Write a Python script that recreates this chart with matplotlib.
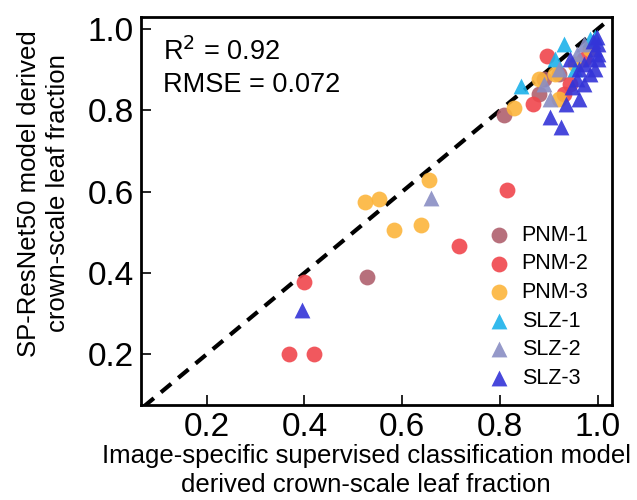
import matplotlib
matplotlib.use('Agg')
import matplotlib.pyplot as plt

plt.rcParams['font.family'] = ['Liberation Sans', 'DejaVu Sans']

# reference (x) vs SP-ResNet50 (y) leaf fraction, per site
pnm1_x = [0.528, 0.809, 0.891, 0.881, 0.922]
pnm1_y = [0.390, 0.790, 0.877, 0.840, 0.889]

pnm2_x = [0.399, 0.368, 0.419, 0.717, 0.815, 0.897, 0.867, 0.943, 0.932, 0.973]
pnm2_y = [0.378, 0.200, 0.200, 0.467, 0.605, 0.933, 0.815, 0.864, 0.840, 0.926]

pnm3_x = [0.524, 0.553, 0.584, 0.639, 0.655, 0.830, 0.881, 0.912, 0.953, 0.984, 0.922]
pnm3_y = [0.575, 0.583, 0.506, 0.519, 0.630, 0.807, 0.877, 0.889, 0.914, 0.951, 0.827]

slz1_x = [0.844, 0.912, 0.932, 0.953, 0.984, 0.994]
slz1_y = [0.859, 0.926, 0.963, 0.901, 0.975, 0.980]

slz2_x = [0.660, 0.891, 0.902, 0.922, 0.959, 0.973]
slz2_y = [0.585, 0.864, 0.827, 0.901, 0.938, 0.963]

slz3_x = [0.395, 0.902, 0.926, 0.936, 0.963, 0.947, 0.973, 0.984, 0.994, 1.000,
          0.959, 0.984, 0.994, 1.000, 0.973, 0.999, 0.990, 0.963, 0.943, 1.000]
slz3_y = [0.309, 0.785, 0.760, 0.815, 0.827, 0.857, 0.864, 0.889, 0.901, 0.926,
          0.877, 0.926, 0.951, 0.963, 0.914, 0.980, 0.970, 0.901, 0.926, 0.938]

r2_text = 'R$^2$ = 0.92'
rmse_text = 'RMSE = 0.072'

fig = plt.figure(figsize=(6.37, 5.0), dpi=100)
ax = fig.add_axes([0.221, 0.19, 0.74, 0.776])

ax.plot([0, 1.1], [0, 1.1], color='black', linestyle=(0, (3.2, 2.2)), linewidth=3, zorder=1)

ax.scatter(pnm1_x, pnm1_y, s=130, marker='o', color='#b0606e', alpha=0.9, lw=0, label='PNM-1', zorder=3)
ax.scatter(pnm2_x, pnm2_y, s=130, marker='o', color='#f0464c', alpha=0.9, lw=0, label='PNM-2', zorder=3)
ax.scatter(pnm3_x, pnm3_y, s=130, marker='o', color='#fcb53c', alpha=0.9, lw=0, label='PNM-3', zorder=3)
ax.scatter(slz1_x, slz1_y, s=130, marker='^', color='#1db2ea', alpha=0.9, lw=0, label='SLZ-1', zorder=3)
ax.scatter(slz2_x, slz2_y, s=130, marker='^', color='#8a8ec4', alpha=0.9, lw=0, label='SLZ-2', zorder=3)
ax.scatter(slz3_x, slz3_y, s=130, marker='^', color='#3434d8', alpha=0.9, lw=0, label='SLZ-3', zorder=3)

ax.set_xlim(0.065, 1.03)
ax.set_ylim(0.075, 1.03)
ax.set_xticks([0.2, 0.4, 0.6, 0.8, 1.0])
ax.set_yticks([0.2, 0.4, 0.6, 0.8, 1.0])
ax.set_xticklabels(['0.2', '0.4', '0.6', '0.8', '1.0'])
ax.set_yticklabels(['0.2', '0.4', '0.6', '0.8', '1.0'])
ax.tick_params(direction='in', length=7, width=1.2, labelsize=24, pad=5)
for sp in ax.spines.values():
    sp.set_linewidth(2)

ax.set_xlabel('Image-specific supervised classification model\nderived crown-scale leaf fraction',
              fontsize=18.5, linespacing=1.25)
ax.xaxis.set_label_coords(0.478, -0.1)
ax.set_ylabel('SP-ResNet50 model derived\ncrown-scale leaf fraction', fontsize=18.5,
              linespacing=1.25)
ax.yaxis.set_label_coords(-0.15, 0.546)

ax.text(0.047, 0.91, r2_text, transform=ax.transAxes, fontsize=19.5, va='center')
ax.text(0.047, 0.825, rmse_text, transform=ax.transAxes, fontsize=19.5, va='center')

ax.legend(loc='lower right', bbox_to_anchor=(0.968, 0.02), frameon=False, fontsize=15.5,
          handletextpad=0.05, labelspacing=0.35, borderaxespad=0.2, borderpad=0.2)

plt.savefig('out.png', dpi=100)
